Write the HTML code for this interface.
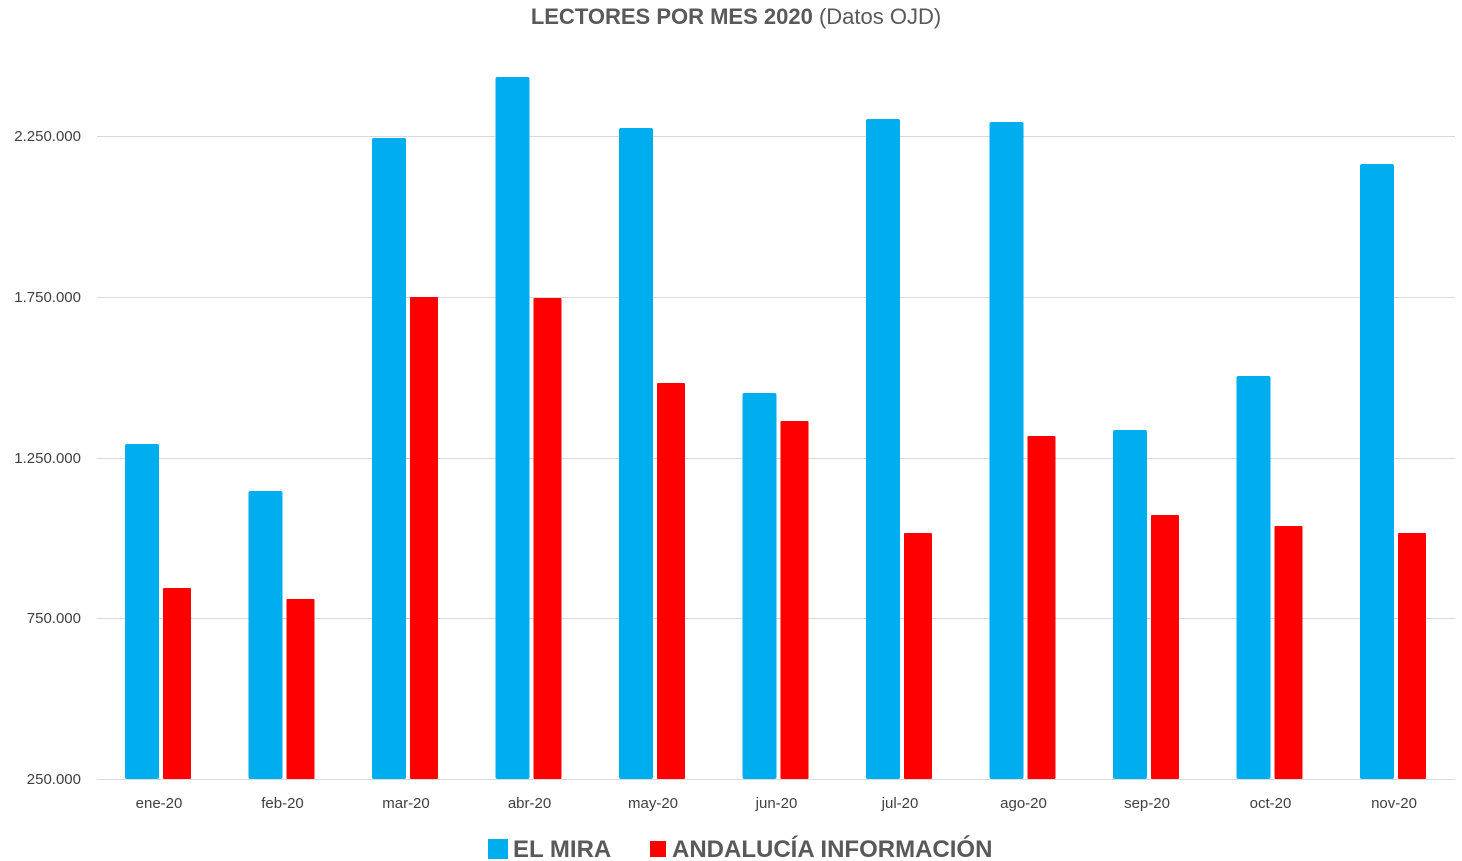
<!DOCTYPE html>
<html><head><meta charset="utf-8"><style>
body{margin:0;background:#fff;}
svg{display:block;font-family:"Liberation Sans",sans-serif;}
</style></head><body>
<svg width="1462" height="861" xmlns="http://www.w3.org/2000/svg">
<text x="736" y="24" text-anchor="middle" font-size="22" fill="#595959"><tspan font-weight="bold">LECTORES POR MES 2020</tspan> (Datos OJD)</text>
<g stroke="#d9d9d9" stroke-width="1">
<line x1="97" y1="136.5" x2="1455" y2="136.5"/>
<line x1="97" y1="297.5" x2="1455" y2="297.5"/>
<line x1="97" y1="458.5" x2="1455" y2="458.5"/>
<line x1="97" y1="618.5" x2="1455" y2="618.5"/>
<line x1="97" y1="779.5" x2="1455" y2="779.5"/>
</g>
<g font-size="15" fill="#404040" text-anchor="end">
<text x="81" y="141">2.250.000</text>
<text x="81" y="302">1.750.000</text>
<text x="81" y="463">1.250.000</text>
<text x="81" y="623">750.000</text>
<text x="81" y="784">250.000</text>
</g>
<g fill="#00AEEF">
<rect x="125" y="444" width="34" height="335" rx="2"/>
<rect x="248.5" y="491" width="34" height="288" rx="2"/>
<rect x="372" y="138" width="34" height="641" rx="2"/>
<rect x="495.5" y="77" width="34" height="702" rx="2"/>
<rect x="619" y="128" width="34" height="651" rx="2"/>
<rect x="742.5" y="393" width="34" height="386" rx="2"/>
<rect x="866" y="119" width="34" height="660" rx="2"/>
<rect x="989.5" y="122" width="34" height="657" rx="2"/>
<rect x="1113" y="430" width="34" height="349" rx="2"/>
<rect x="1236.5" y="376" width="34" height="403" rx="2"/>
<rect x="1360" y="164" width="34" height="615" rx="2"/>
</g>
<g fill="#FF0000">
<rect x="163" y="588" width="28" height="191" rx="1"/>
<rect x="286.5" y="599" width="28" height="180" rx="1"/>
<rect x="410" y="297" width="28" height="482" rx="1"/>
<rect x="533.5" y="298" width="28" height="481" rx="1"/>
<rect x="657" y="383" width="28" height="396" rx="1"/>
<rect x="780.5" y="421" width="28" height="358" rx="1"/>
<rect x="904" y="533" width="28" height="246" rx="1"/>
<rect x="1027.5" y="436" width="28" height="343" rx="1"/>
<rect x="1151" y="515" width="28" height="264" rx="1"/>
<rect x="1274.5" y="526" width="28" height="253" rx="1"/>
<rect x="1398" y="533" width="28" height="246" rx="1"/>
</g>
<g font-size="15" fill="#404040" text-anchor="middle">
<text x="159" y="808">ene-20</text>
<text x="282.5" y="808">feb-20</text>
<text x="406" y="808">mar-20</text>
<text x="529.5" y="808">abr-20</text>
<text x="653" y="808">may-20</text>
<text x="776.5" y="808">jun-20</text>
<text x="900" y="808">jul-20</text>
<text x="1023.5" y="808">ago-20</text>
<text x="1147" y="808">sep-20</text>
<text x="1270.5" y="808">oct-20</text>
<text x="1394" y="808">nov-20</text>
</g>
<rect x="488" y="839" width="20" height="20" fill="#00AEEF"/>
<text x="513" y="857" font-size="24" font-weight="bold" fill="#595959">EL MIRA</text>
<rect x="650" y="841" width="16" height="16" fill="#FF0000"/>
<text x="672" y="857" font-size="24" font-weight="bold" fill="#595959">ANDALUCÍA INFORMACIÓN</text>
</svg>
</body></html>
